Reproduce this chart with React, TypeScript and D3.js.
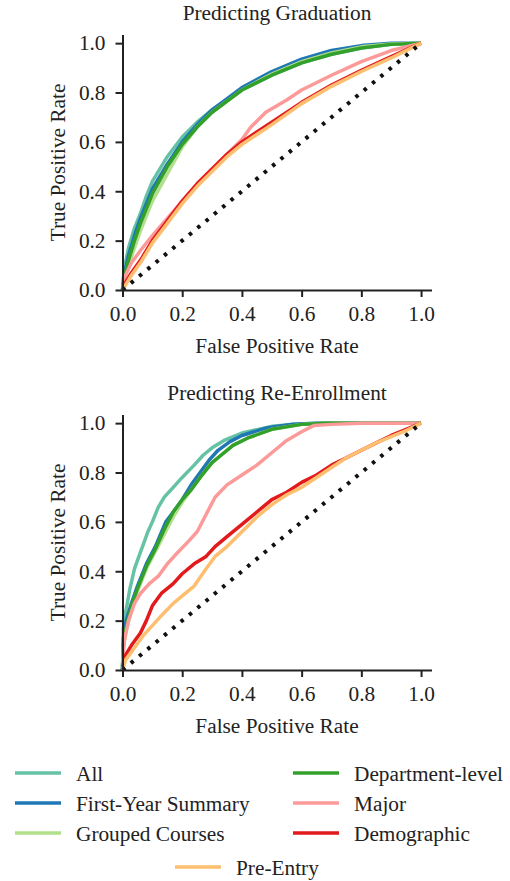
import { useEffect, useRef } from 'react';
import * as d3 from 'd3';

// series order (draw + legend)
const seriesNames = ['All', 'First-Year Summary', 'Grouped Courses', 'Department-level', 'Major', 'Demographic', 'Pre-Entry'];
const seriesColors = ['#66c2a5', '#1f78b4', '#b2df8a', '#33a02c', '#fb9a99', '#e31a1c', '#fdbf6f'];
const tickValues = [0, 0.2, 0.4, 0.6, 0.8, 1.0];

// Predicting Graduation: [fpr, tpr]
const gradAll = [[0, 0], [0.005, 0.08], [0.02, 0.17], [0.04, 0.25], [0.06, 0.31], [0.08, 0.38], [0.1, 0.44], [0.15, 0.54], [0.2, 0.62], [0.25, 0.68], [0.3, 0.73], [0.4, 0.81], [0.5, 0.87], [0.6, 0.92], [0.7, 0.955], [0.8, 0.98], [0.9, 0.995], [1, 1]];
const gradFirstYear = [[0, 0], [0.005, 0.06], [0.02, 0.14], [0.04, 0.22], [0.06, 0.29], [0.08, 0.35], [0.1, 0.41], [0.15, 0.51], [0.2, 0.6], [0.25, 0.67], [0.3, 0.73], [0.4, 0.82], [0.5, 0.885], [0.6, 0.935], [0.7, 0.97], [0.8, 0.99], [0.9, 1], [1, 1]];
const gradGrouped = [[0, 0], [0.005, 0.04], [0.02, 0.1], [0.04, 0.17], [0.06, 0.24], [0.08, 0.3], [0.1, 0.36], [0.15, 0.47], [0.2, 0.58], [0.25, 0.66], [0.3, 0.72], [0.4, 0.81], [0.5, 0.875], [0.6, 0.925], [0.7, 0.96], [0.8, 0.985], [0.9, 0.997], [1, 1]];
const gradDept = [[0, 0], [0.005, 0.05], [0.02, 0.12], [0.04, 0.2], [0.06, 0.27], [0.08, 0.33], [0.1, 0.39], [0.15, 0.5], [0.2, 0.59], [0.25, 0.66], [0.3, 0.72], [0.4, 0.81], [0.5, 0.87], [0.6, 0.92], [0.7, 0.955], [0.8, 0.98], [0.9, 0.995], [1, 1]];
const gradMajor = [[0, 0.03], [0.01, 0.06], [0.03, 0.11], [0.06, 0.16], [0.1, 0.22], [0.15, 0.29], [0.2, 0.36], [0.25, 0.43], [0.3, 0.49], [0.35, 0.55], [0.4, 0.61], [0.43, 0.66], [0.48, 0.72], [0.55, 0.77], [0.6, 0.81], [0.7, 0.87], [0.8, 0.925], [0.9, 0.97], [1, 1]];
const gradDemo = [[0, 0], [0.01, 0.03], [0.03, 0.07], [0.06, 0.12], [0.1, 0.2], [0.15, 0.28], [0.2, 0.36], [0.25, 0.43], [0.3, 0.49], [0.35, 0.55], [0.4, 0.6], [0.45, 0.64], [0.5, 0.68], [0.6, 0.76], [0.7, 0.83], [0.8, 0.89], [0.9, 0.945], [1, 1]];
const gradPreEntry = [[0, 0], [0.01, 0.02], [0.03, 0.06], [0.06, 0.11], [0.1, 0.19], [0.15, 0.27], [0.2, 0.35], [0.25, 0.42], [0.3, 0.48], [0.35, 0.54], [0.4, 0.59], [0.45, 0.63], [0.5, 0.67], [0.6, 0.755], [0.7, 0.825], [0.8, 0.885], [0.9, 0.94], [1, 1]];

// Predicting Re-Enrollment: [fpr, tpr]
const reAll = [[0, 0], [0.003, 0.17], [0.01, 0.23], [0.025, 0.33], [0.04, 0.41], [0.055, 0.46], [0.07, 0.51], [0.085, 0.56], [0.1, 0.6], [0.12, 0.66], [0.14, 0.7], [0.17, 0.74], [0.2, 0.78], [0.24, 0.83], [0.27, 0.87], [0.3, 0.9], [0.34, 0.93], [0.4, 0.96], [0.5, 0.987], [0.6, 0.998], [0.7, 1], [1, 1]];
const reFirstYear = [[0, 0], [0.003, 0.13], [0.01, 0.19], [0.03, 0.27], [0.05, 0.34], [0.08, 0.43], [0.11, 0.5], [0.145, 0.6], [0.17, 0.64], [0.2, 0.69], [0.23, 0.75], [0.26, 0.8], [0.29, 0.85], [0.32, 0.89], [0.36, 0.925], [0.4, 0.95], [0.48, 0.98], [0.57, 0.996], [0.65, 1], [1, 1]];
const reGrouped = [[0, 0], [0.003, 0.09], [0.01, 0.15], [0.03, 0.24], [0.05, 0.32], [0.08, 0.41], [0.11, 0.48], [0.14, 0.55], [0.17, 0.62], [0.2, 0.68], [0.23, 0.73], [0.26, 0.78], [0.3, 0.84], [0.33, 0.87], [0.37, 0.91], [0.42, 0.94], [0.5, 0.975], [0.6, 0.995], [0.68, 1], [1, 1]];
const reDept = [[0, 0], [0.003, 0.1], [0.01, 0.16], [0.03, 0.26], [0.05, 0.33], [0.08, 0.42], [0.11, 0.49], [0.14, 0.57], [0.17, 0.64], [0.2, 0.69], [0.23, 0.73], [0.26, 0.78], [0.3, 0.84], [0.33, 0.87], [0.37, 0.91], [0.42, 0.94], [0.5, 0.975], [0.6, 0.995], [0.68, 1], [1, 1]];
const reMajor = [[0, 0.02], [0.005, 0.11], [0.02, 0.2], [0.04, 0.27], [0.06, 0.31], [0.09, 0.35], [0.12, 0.38], [0.15, 0.43], [0.18, 0.47], [0.22, 0.52], [0.25, 0.56], [0.28, 0.63], [0.31, 0.7], [0.35, 0.75], [0.4, 0.79], [0.45, 0.83], [0.5, 0.88], [0.55, 0.93], [0.6, 0.965], [0.64, 0.99], [0.7, 0.995], [0.8, 1], [1, 1]];
const reDemo = [[0, 0], [0.005, 0.05], [0.03, 0.1], [0.06, 0.15], [0.08, 0.2], [0.1, 0.26], [0.13, 0.31], [0.17, 0.35], [0.2, 0.39], [0.24, 0.43], [0.28, 0.46], [0.31, 0.5], [0.35, 0.54], [0.4, 0.59], [0.45, 0.64], [0.5, 0.69], [0.55, 0.72], [0.6, 0.76], [0.65, 0.79], [0.7, 0.83], [0.75, 0.86], [0.8, 0.89], [0.85, 0.92], [0.9, 0.95], [0.95, 0.975], [1, 1]];
const rePreEntry = [[0, 0], [0.01, 0.04], [0.04, 0.09], [0.07, 0.14], [0.1, 0.18], [0.13, 0.22], [0.17, 0.27], [0.2, 0.3], [0.24, 0.34], [0.28, 0.41], [0.31, 0.46], [0.35, 0.5], [0.4, 0.56], [0.45, 0.62], [0.5, 0.67], [0.55, 0.71], [0.6, 0.74], [0.65, 0.78], [0.7, 0.82], [0.75, 0.86], [0.8, 0.89], [0.85, 0.92], [0.9, 0.945], [0.95, 0.97], [1, 1]];

const gradSeries = [gradAll, gradFirstYear, gradGrouped, gradDept, gradMajor, gradDemo, gradPreEntry];
const reSeries = [reAll, reFirstYear, reGrouped, reDept, reMajor, reDemo, rePreEntry];

const FONT = "'Liberation Serif', 'Times New Roman', serif";
const FS = '21.3px';

const drawPanel = (svg, title, series, top) => {
  const x = d3.scaleLinear().domain([0, 1.035]).range([122.5, 431.5]);
  const y = d3.scaleLinear().domain([0, 1.035]).range([top + 255.5, top]);
  const g = svg.append('g');

  const line = d3.line().x(d => x(d[0])).y(d => y(d[1]));

  series.forEach((s, i) => {
    g.append('path')
      .datum(s)
      .attr('fill', 'none')
      .attr('stroke', seriesColors[i])
      .attr('stroke-width', 3.5)
      .attr('stroke-linejoin', 'round')
      .attr('d', line);
  });

  // chance diagonal
  g.append('path')
    .datum([[0, 0], [1, 1]])
    .attr('fill', 'none')
    .attr('stroke', '#111')
    .attr('stroke-width', 4)
    .attr('stroke-dasharray', '3.5 7.3')
    .attr('d', line);

  const xAxis = g.append('g')
    .attr('transform', `translate(0,${top + 255.5})`)
    .call(d3.axisBottom(x).tickValues(tickValues).tickFormat(d3.format('.1f')).tickSize(7).tickSizeOuter(0).tickPadding(9));
  const yAxis = g.append('g')
    .attr('transform', 'translate(122.5,0)')
    .call(d3.axisLeft(y).tickValues(tickValues).tickFormat(d3.format('.1f')).tickSize(7).tickSizeOuter(0).tickPadding(10));

  [xAxis, yAxis].forEach(a => {
    a.attr('font-family', null).attr('font-size', null);
    a.select('.domain').attr('stroke', '#222').attr('stroke-width', 2);
    a.selectAll('.tick line').attr('stroke', '#222').attr('stroke-width', 2);
    a.selectAll('.tick text').attr('fill', '#222');
  });

  g.append('text')
    .attr('x', 277)
    .attr('y', top - 15)
    .attr('text-anchor', 'middle')
    .attr('fill', '#222')
    .text(title);

  g.append('text')
    .attr('x', 277)
    .attr('y', top + 318.5)
    .attr('text-anchor', 'middle')
    .attr('fill', '#222')
    .text('False Positive Rate');

  g.append('text')
    .attr('transform', `translate(65,${top + 128}) rotate(-90)`)
    .attr('text-anchor', 'middle')
    .attr('fill', '#222')
    .text('True Positive Rate');
};

export default function App() {
  const ref = useRef(null);

  useEffect(() => {
    const svg = d3.select(ref.current);
    svg.selectAll('*').remove();

    drawPanel(svg, 'Predicting Graduation', gradSeries, 34.5);
    drawPanel(svg, 'Predicting Re-Enrollment', reSeries, 414.5);

    // legend: 3 rows x 2 cols, last entry centred
    const legendPos = [[15, 773], [15, 803], [15, 833], [293, 773], [293, 803], [293, 833], [175, 867]];
    const legend = svg.append('g');
    seriesNames.forEach((name, i) => {
      const [lx, ly] = legendPos[i];
      legend.append('line')
        .attr('x1', lx).attr('x2', lx + 46)
        .attr('y1', ly).attr('y2', ly)
        .attr('stroke', seriesColors[i])
        .attr('stroke-width', 3.5);
      legend.append('text')
        .attr('x', lx + 61)
        .attr('y', ly + 8)
        .attr('fill', '#222')
        .text(name);
    });
  }, []);

  return (
    <svg ref={ref} width={510} height={881}
      style={{ position: 'absolute', left: 0, top: 0, background: '#fff', fontFamily: FONT, fontSize: FS }} />
  );
}
